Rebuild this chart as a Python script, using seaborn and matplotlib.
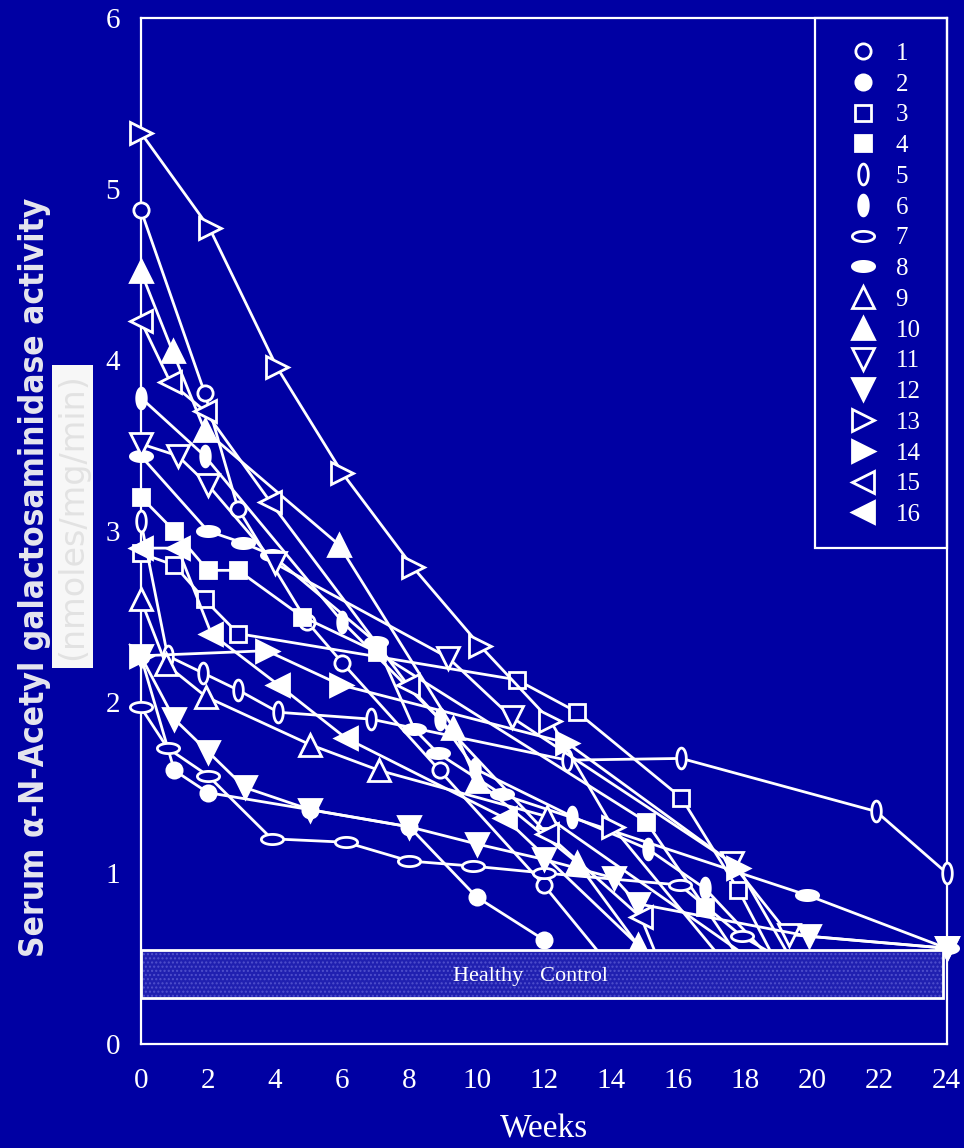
import numpy as np
import pandas as pd
import matplotlib
matplotlib.use("Agg")
import matplotlib.pyplot as plt
from matplotlib.path import Path
from matplotlib.patches import Rectangle
import seaborn as sns

# ---------------- data (weeks, serum activity nmoles/mg/min) ----------------
weeks_1 = [0, 1.9, 2.9, 4.95, 6.0, 8.9, 12.0, 14.0]
act_1 = [4.88, 3.81, 3.13, 2.47, 2.23, 1.60, 0.93, 0.45]
weeks_2 = [0, 1.0, 2.0, 5.05, 8.0, 10.0, 12.0]
act_2 = [2.27, 1.60, 1.47, 1.37, 1.27, 0.86, 0.61]
weeks_3 = [0, 1.0, 1.9, 2.9, 11.2, 13.0, 16.1, 17.8, 19.0]
act_3 = [2.87, 2.80, 2.60, 2.40, 2.13, 1.94, 1.44, 0.90, 0.45]
weeks_4 = [0, 1.0, 2.0, 2.9, 4.8, 7.05, 15.05, 16.8, 18.0]
act_4 = [3.20, 3.00, 2.77, 2.77, 2.50, 2.29, 1.30, 0.80, 0.45]
weeks_5 = [0, 0.8, 1.85, 2.9, 4.1, 6.85, 12.7, 16.1, 21.9, 24.0]
act_5 = [3.06, 2.27, 2.17, 2.07, 1.94, 1.90, 1.66, 1.67, 1.36, 1.00]
weeks_6 = [0, 1.9, 6.0, 8.9, 9.95, 12.85, 15.1, 16.8, 19.0]
act_6 = [3.78, 3.44, 2.47, 1.90, 1.61, 1.33, 1.14, 0.91, 0.45]
weeks_7 = [0, 0.8, 2.0, 3.9, 6.1, 8.0, 9.9, 12.0, 16.05, 17.9, 19.5]
act_7 = [1.97, 1.73, 1.57, 1.20, 1.18, 1.07, 1.04, 1.00, 0.93, 0.63, 0.45]
weeks_8 = [0, 2.0, 3.05, 3.9, 7.0, 8.15, 8.85, 10.75, 19.85, 24.0]
act_8 = [3.44, 3.00, 2.93, 2.86, 2.35, 1.84, 1.70, 1.46, 0.87, 0.56]
weeks_9 = [0, 0.75, 1.95, 5.05, 7.1, 12.1, 18.5]
act_9 = [2.60, 2.22, 2.03, 1.75, 1.60, 1.33, 0.45]
weeks_10 = [0, 0.95, 1.9, 5.9, 9.3, 10.0, 13.0, 14.8, 15.5]
act_10 = [4.52, 4.05, 3.59, 2.92, 1.85, 1.54, 1.06, 0.58, 0.40]
weeks_11 = [0, 1.1, 2.0, 4.0, 9.15, 11.05, 17.6, 19.3, 24.0]
act_11 = [3.51, 3.44, 3.27, 2.81, 2.26, 1.91, 1.06, 0.64, 0.56]
weeks_12 = [0, 1.0, 2.0, 3.1, 5.05, 8.0, 10.0, 12.0, 14.1, 14.8, 19.9, 24.0]
act_12 = [2.27, 1.90, 1.71, 1.50, 1.37, 1.27, 1.17, 1.08, 0.97, 0.82, 0.63, 0.56]
weeks_13 = [0, 2.05, 4.05, 6.0, 8.1, 10.1, 12.2, 14.05, 17.5]
act_13 = [5.33, 4.77, 3.96, 3.34, 2.79, 2.33, 1.89, 1.27, 0.45]
weeks_14 = [0, 3.75, 5.95, 12.7, 17.8, 19.5]
act_14 = [2.27, 2.30, 2.10, 1.76, 1.03, 0.45]
weeks_15 = [0, 0.88, 1.92, 3.86, 7.95, 12.1, 14.9, 15.5]
act_15 = [4.23, 3.87, 3.70, 3.17, 2.10, 1.23, 0.74, 0.45]
weeks_16 = [0, 1.1, 2.1, 4.1, 6.1, 10.85, 15.5]
act_16 = [2.90, 2.90, 2.40, 2.10, 1.79, 1.32, 0.45]

patient_labels = [str(i) for i in range(1, 17)]
control_low, control_high = 0.27, 0.55
control_label = "Healthy   Control"
x_ticks = list(range(0, 25, 2))
y_ticks = list(range(0, 7))

weeks_all = [weeks_1, weeks_2, weeks_3, weeks_4, weeks_5, weeks_6, weeks_7, weeks_8,
             weeks_9, weeks_10, weeks_11, weeks_12, weeks_13, weeks_14, weeks_15, weeks_16]
acts_all = [act_1, act_2, act_3, act_4, act_5, act_6, act_7, act_8,
            act_9, act_10, act_11, act_12, act_13, act_14, act_15, act_16]

# ---------------- styling ----------------
BG = "#0000A3"
FG = "white"
t = np.linspace(0, 2 * np.pi, 61)
v_ell = Path(np.column_stack([0.46 * np.sin(t), np.cos(t)]), closed=True)
h_ell = Path(np.column_stack([np.cos(t), 0.46 * np.sin(t)]), closed=True)

# (marker, filled, size in pt)
marker_styles = [
    ("o", False, 11), ("o", True, 11), ("s", False, 11), ("s", True, 11),
    (v_ell, False, 15), (v_ell, True, 15), (h_ell, False, 16), (h_ell, True, 16),
    ("^", False, 16), ("^", True, 16), ("v", False, 16), ("v", True, 16),
    (">", False, 16), (">", True, 16), ("<", False, 16), ("<", True, 16),
]

sns.set_theme(style="white")
plt.rcParams["font.family"] = ["Liberation Serif", "DejaVu Serif"]

fig = plt.figure(figsize=(9.64, 11.48), dpi=100, facecolor=BG)
ax = fig.add_axes([0.146, 0.0906, 0.836, 0.8937])
ax.set_facecolor(BG)

for i in range(16):
    mk, filled, ms = marker_styles[i]
    df = pd.DataFrame({"Weeks": weeks_all[i], "Activity": acts_all[i]})
    sns.lineplot(data=df, x="Weeks", y="Activity", ax=ax, sort=False, errorbar=None,
                 color=FG, lw=2.0, marker=mk, ms=ms, mew=2.0,
                 mfc=(FG if filled else BG), mec=FG, label=patient_labels[i],
                 clip_on=False, zorder=3)

# healthy control band (drawn above the lines)
band_w = 23.9
ax.add_patch(Rectangle((0, control_low), band_w, control_high - control_low,
                       facecolor="#2020B0", edgecolor="#5050CC", hatch="....",
                       lw=0, zorder=4))
ax.add_patch(Rectangle((0, control_low), band_w, control_high - control_low,
                       facecolor="none", edgecolor=FG, lw=2.0, zorder=5))
ax.text(11.6, 0.395, control_label,
        color=FG, fontsize=16, ha="center", va="center", zorder=6)

ax.set_xlim(0, 24)
ax.set_ylim(0, 6)
ax.set_xticks(x_ticks)
ax.set_yticks(y_ticks)
ax.tick_params(axis="x", direction="in", length=18, width=1.5, color=FG,
               labelcolor=FG, labelsize=21, pad=17)
ax.tick_params(axis="y", direction="in", length=21, width=1.5, color=FG,
               labelcolor=FG, labelsize=21, pad=15)
for sp in ax.spines.values():
    sp.set_color(FG)
    sp.set_linewidth(1.6)
ax.set_xlabel("Weeks", color=FG, fontsize=24, labelpad=15)
ax.set_ylabel("")

# legend: markers only, inside a white framed box
handles, labels = ax.get_legend_handles_labels()
leg = ax.legend(handles, labels, loc="upper left", bbox_to_anchor=(0.884, 0.986),
                frameon=False, handlelength=0, handletextpad=1.3, numpoints=1,
                fontsize=18, labelspacing=0.33, labelcolor=FG, borderaxespad=0)
ax.add_patch(Rectangle((0.8366, 0.4834), 0.1634, 0.5166, transform=ax.transAxes,
                       facecolor="none", edgecolor=FG, lw=1.6, zorder=7, clip_on=False))

# y-axis titles
fig.text(0.036, 0.497, "Serum \u03b1-N-Acetyl galactosaminidase activity",
         rotation=90, ha="center", va="center", color="#E6E6EE",
         fontsize=24, fontweight="bold", family=["DejaVu Sans"], fontstretch="condensed")
fig.patches.append(Rectangle((0.0539, 0.4181), 0.0425, 0.2639, transform=fig.transFigure,
                             facecolor="#F7F7F7", edgecolor="none", figure=fig))
fig.text(0.0752, 0.55, "(nmoles/mg/min)", rotation=90, ha="center", va="center",
         color="#E2E2E2", fontsize=24, family=["DejaVu Sans"])

fig.savefig("out.png", dpi=100, facecolor=BG)
